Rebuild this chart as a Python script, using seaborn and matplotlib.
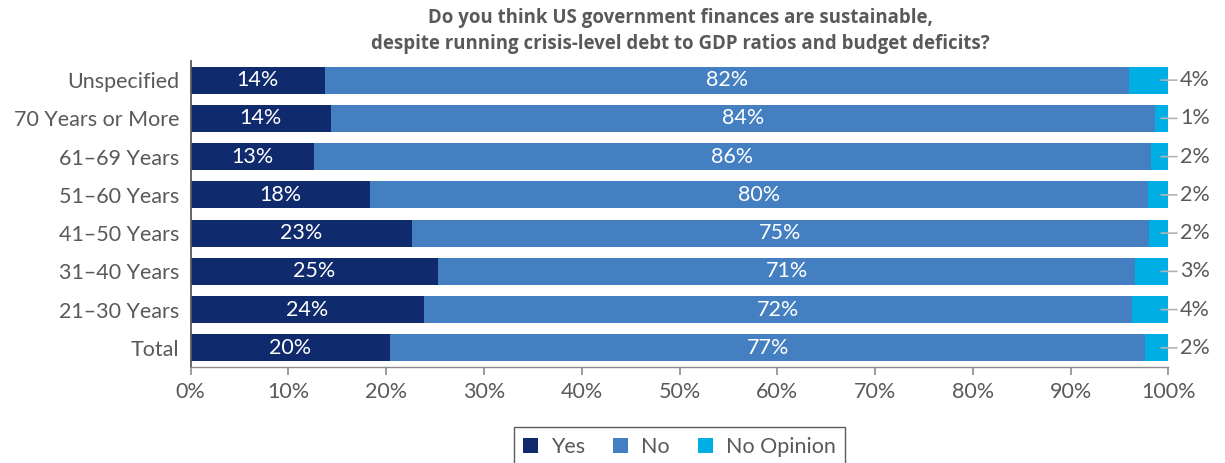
import matplotlib
matplotlib.use("Agg")
import matplotlib.pyplot as plt
from matplotlib.patches import Patch
import numpy as np
import pandas as pd
import seaborn as sns

# Survey responses by age group (percent of respondents)
groups = ["Unspecified", "70 Years or More", "61–69 Years", "51–60 Years",
          "41–50 Years", "31–40 Years", "21–30 Years", "Total"]
yes = [13.7, 14.3, 12.6, 18.3, 22.6, 25.3, 23.9, 20.4]
no = [82.3, 84.3, 85.6, 79.6, 75.4, 71.3, 72.4, 77.2]
no_opinion = [4.0, 1.4, 1.8, 2.1, 2.0, 3.4, 3.7, 2.4]
xticks = [0, 10, 20, 30, 40, 50, 60, 70, 80, 90, 100]

title = ("Do you think US government finances are sustainable,\n"
         "despite running crisis-level debt to GDP ratios and budget deficits?")

c_yes, c_no, c_op = "#102a6e", "#437fc1", "#00aee6"
grey = "#595959"
fs = 15.5

sns.set_theme(style="white")
plt.rcParams["font.family"] = ["Lato", "DejaVu Sans"]

df = pd.DataFrame({"group": groups, "yes": yes, "no": no, "op": no_opinion})
df["yes_no"] = df["yes"] + df["no"]
df["total"] = df["yes_no"] + df["op"]

fig = plt.figure(figsize=(12.25, 4.63), dpi=100)
ax = fig.add_axes([190.7 / 1225, 1 - 367 / 463, (1168.5 - 190.7) / 1225, (367 - 61) / 463])

# Stacked bars drawn back to front as cumulative totals
for col, color in [("total", c_op), ("yes_no", c_no), ("yes", c_yes)]:
    sns.barplot(data=df, y="group", x=col, order=groups, color=color,
                width=0.7, saturation=1, ax=ax, edgecolor="none", linewidth=0)

ax.set_xlim(0, 100)
ax.set_ylim(len(groups) - 0.5, -0.5)
ax.set_xticks(xticks)
ax.set_xticklabels([f"{t}%" for t in xticks], fontsize=fs, color=grey)
ax.tick_params(axis="y", labelsize=fs, labelcolor=grey, length=0, pad=8)
ax.tick_params(axis="x", bottom=True, length=6, width=1.2, color="#8c8c8c", pad=5)
ax.set_xlabel("")
ax.set_ylabel("")
for s in ["top", "right"]:
    ax.spines[s].set_visible(False)
ax.spines["left"].set_color(grey)
ax.spines["left"].set_linewidth(1.3)
ax.spines["bottom"].set_color("#8c8c8c")
ax.spines["bottom"].set_linewidth(1.0)

# Value labels inside the bars
for i, row in df.iterrows():
    ax.text(row["yes"] / 2, i, f"{row['yes']:.0f}%", ha="center", va="center",
            color="white", fontsize=fs)
    ax.text(row["yes"] + row["no"] / 2, i, f"{row['no']:.0f}%", ha="center",
            va="center", color="white", fontsize=fs)
    # No-opinion label with leader line outside the bar
    ax.annotate(f"{row['op']:.0f}%", xy=(row["total"] - 0.75, i),
                xytext=(row["total"] + 1.2, i), textcoords="data",
                ha="left", va="center", color=grey, fontsize=fs,
                annotation_clip=False,
                arrowprops=dict(arrowstyle="-", color="#b4b4b4", lw=1.2,
                                shrinkA=0, shrinkB=0))

fig.text(0.5557, 1 - 31 / 463, title, ha="center", va="center", fontsize=13.4,
         fontweight="bold", color=grey, linespacing=1.38,
         family=["Open Sans", "DejaVu Sans"])

handles = [Patch(facecolor=c, edgecolor="none") for c in (c_yes, c_no, c_op)]
leg = fig.legend(handles, ["Yes", "No", "No Opinion"], ncol=3,
                 loc="upper center", bbox_to_anchor=(0.5547, 1 - 427 / 463),
                 borderaxespad=0, frameon=True, fancybox=False, fontsize=fs,
                 handlelength=0.7, handleheight=0.7, handletextpad=0.6,
                 columnspacing=1.3, borderpad=0.45)
leg.get_frame().set_edgecolor("#333333")
leg.get_frame().set_linewidth(1.0)
for t in leg.get_texts():
    t.set_color(grey)

fig.savefig("out.png", dpi=100)
